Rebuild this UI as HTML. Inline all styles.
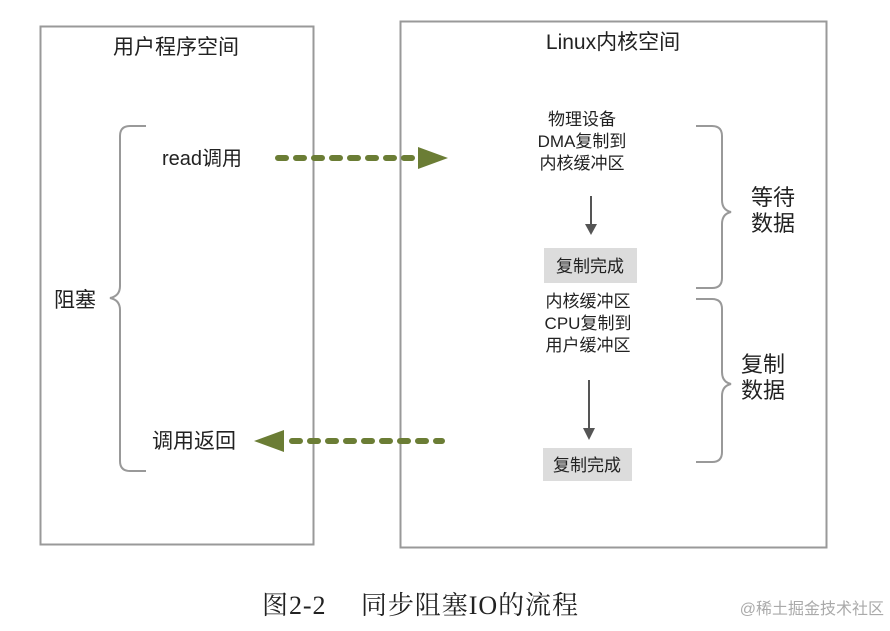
<!DOCTYPE html>
<html><head><meta charset="utf-8"><style>
html,body{margin:0;padding:0;background:#fff;}
svg text{font-family:"Liberation Sans","Noto Sans CJK SC",sans-serif;fill:#222;}
</style></head><body>
<svg width="890" height="626" viewBox="0 0 890 626" xmlns="http://www.w3.org/2000/svg">
<rect x="40.5" y="26.5" width="273" height="518" fill="none" stroke="#999" stroke-width="2"/>
<rect x="400.5" y="21.5" width="426" height="526" fill="none" stroke="#999" stroke-width="2"/>
<text x="176" y="54" font-size="21" text-anchor="middle">用户程序空间</text>
<text x="613" y="49" font-size="21" text-anchor="middle">Linux内核空间</text>
<path d="M146 126 H130 Q120 126 120 136 V286 Q120 296 110 298 Q120 300 120 310 V461 Q120 471 130 471 H146" fill="none" stroke="#999" stroke-width="2"/>
<text x="54" y="307" font-size="21">阻塞</text>
<text x="162" y="165" font-size="20">read调用</text>
<text x="152" y="448" font-size="21">调用返回</text>
<line x1="278" y1="158" x2="420" y2="158" stroke="#6b7d35" stroke-width="6" stroke-dasharray="8,10" stroke-linecap="round"/>
<polygon points="418,147 448,158 418,169" fill="#6b7d35"/>
<line x1="292" y1="441" x2="442" y2="441" stroke="#6b7d35" stroke-width="6" stroke-dasharray="8,10" stroke-linecap="round"/>
<polygon points="284,430 254,441 284,452" fill="#6b7d35"/>
<g font-size="17" text-anchor="middle">
<text x="582" y="125">物理设备</text>
<text x="582" y="147">DMA复制到</text>
<text x="582" y="169">内核缓冲区</text>
<text x="588" y="307">内核缓冲区</text>
<text x="588" y="329">CPU复制到</text>
<text x="588" y="351">用户缓冲区</text>
</g>
<line x1="591" y1="196" x2="591" y2="228" stroke="#555" stroke-width="2"/>
<polygon points="585,224 597,224 591,235" fill="#555"/>
<line x1="589" y1="380" x2="589" y2="432" stroke="#555" stroke-width="2"/>
<polygon points="583,428 595,428 589,440" fill="#555"/>
<rect x="544" y="248" width="93" height="35" fill="#dcdcdc"/>
<text x="590" y="272" font-size="17" text-anchor="middle">复制完成</text>
<rect x="543" y="448" width="89" height="33" fill="#dcdcdc"/>
<text x="587" y="471" font-size="17" text-anchor="middle">复制完成</text>
<path d="M696 126 H712 Q722 126 722 136 V200 Q722 210 731 212 Q722 214 722 224 V278 Q722 288 712 288 H696" fill="none" stroke="#999" stroke-width="2"/>
<path d="M696 299 H712 Q722 299 722 309 V372 Q722 382 731 384 Q722 386 722 396 V452 Q722 462 712 462 H696" fill="none" stroke="#999" stroke-width="2"/>
<text x="751" y="205" font-size="22">等待</text>
<text x="751" y="231" font-size="22">数据</text>
<text x="741" y="372" font-size="22">复制</text>
<text x="741" y="398" font-size="22">数据</text>
<text x="262" y="614" font-size="26" style='font-family:"Liberation Serif","Noto Serif CJK SC",serif' textLength="316">图2-2　 同步阻塞IO的流程</text>
<text x="884" y="614" font-size="16" text-anchor="end" style="fill:#aaa">@稀土掘金技术社区</text>
</svg>
</body></html>
